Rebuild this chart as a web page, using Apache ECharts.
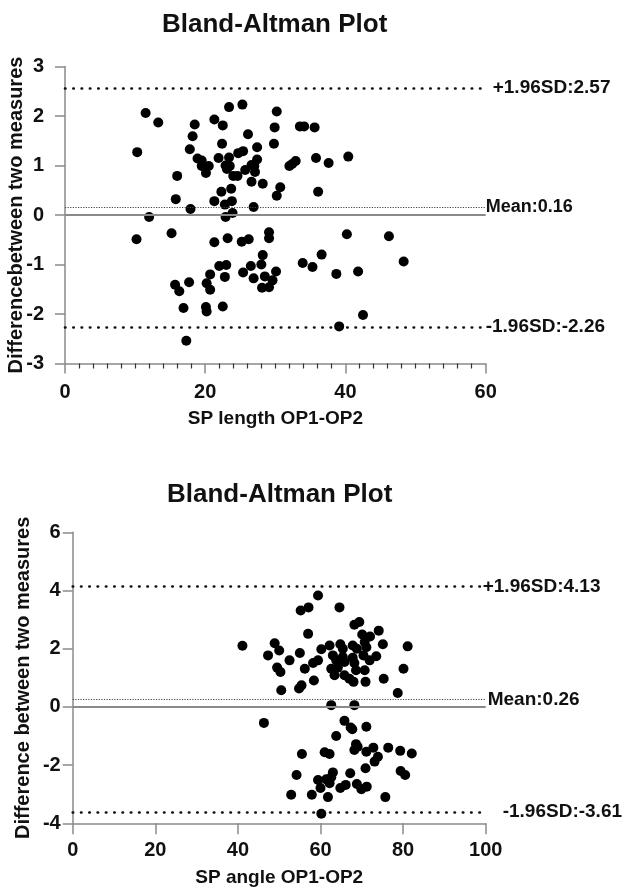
<!DOCTYPE html>
<html lang="en">
  <head>
    <meta charset="UTF-8" />
    <meta name="viewport" content="width=device-width, initial-scale=1.0" />
    <title>Bland-Altman Plot</title>
    <script src="https://cdn.jsdelivr.net/npm/echarts@6/dist/echarts.min.js"></script>
    <style>
      * {
        margin: 0;
        padding: 0;
      }
    </style>
  </head>
  <body>
    <div id="charts" style="width: 624px; height: 896px"></div>
    <script>
      // top plot: SP length, mean of OP1/OP2 vs difference
      var lengthX = [11.5, 13.3, 10.3, 18.5, 21.3, 23.4, 25.3, 22.5, 30.2, 18.2, 29.9, 26.1, 33.5, 34.1, 35.6, 22.4, 17.8, 29.8, 27.4, 25.4, 24.7, 18.9, 19.5, 21.9, 23.4, 27.4, 19.5, 20.5, 22.9, 23.5, 23.1, 35.8, 32.0, 32.4, 32.9, 26.6, 27.0, 25.7, 27.1, 20.1, 16.0, 24.0, 24.6, 26.6, 28.2, 23.7, 30.7, 22.3, 30.2, 36.1, 15.8, 21.3, 23.8, 22.8, 17.9, 26.9, 23.9, 22.9, 12.0, 37.6, 40.4,
        40.2, 46.2, 36.6, 33.9, 35.3, 48.3, 38.7, 41.8, 42.5, 39.1, 10.2, 15.2, 21.3, 23.2, 25.2, 26.2, 29.1, 29.1, 28.2, 22.0, 23.0, 26.5, 28.0, 25.4, 30.1, 20.7, 22.8, 26.9, 28.5, 29.6, 15.7, 17.7, 20.2, 20.7, 16.3, 28.1, 29.1, 16.9, 20.1, 20.2, 22.5, 17.3];
      var lengthDiff = [2.06, 1.87, 1.27, 1.83, 1.93, 2.18, 2.23, 1.81, 2.09, 1.59, 1.77, 1.63, 1.79, 1.79, 1.77, 1.44, 1.33, 1.44, 1.37, 1.29, 1.25, 1.14, 1.1, 1.15, 1.16, 1.12, 0.99, 0.99, 1.0, 0.99, 0.93, 1.15, 0.99, 1.03, 1.09, 1.01, 0.99, 0.91, 0.87, 0.85, 0.79, 0.79, 0.79, 0.67, 0.63, 0.53, 0.56, 0.47, 0.39, 0.47, 0.32, 0.28, 0.28, 0.21, 0.12, 0.16, 0.04, -0.04, -0.04, 1.05, 1.18,
        -0.39, -0.43, -0.8, -0.97, -1.05, -0.94, -1.19, -1.14, -2.02, -2.25, -0.49, -0.37, -0.55, -0.47, -0.54, -0.49, -0.35, -0.47, -0.81, -1.03, -1.01, -1.03, -1.0, -1.16, -1.14, -1.2, -1.25, -1.28, -1.24, -1.32, -1.41, -1.36, -1.38, -1.51, -1.54, -1.47, -1.46, -1.88, -1.86, -1.95, -1.85, -2.54];
      var lengthLimits = [2.57, 0.16, -2.26]; // +1.96SD, mean, -1.96SD

      // bottom plot: SP angle
      var angleX = [59.4, 55.2, 57.1, 64.6, 68.2, 69.4, 57.0, 74.1, 70.1, 72.0, 41.1, 48.9, 50.0, 47.3, 52.5, 55.0, 60.2, 62.2, 64.8, 65.4, 67.8, 68.8, 70.7, 71.1, 75.1, 81.1, 58.2, 59.4, 63.0, 63.8, 65.4, 65.8, 67.8, 68.2, 70.4, 71.9, 73.5, 49.5, 50.3, 56.2, 62.6, 64.2, 63.4, 65.8, 68.6, 70.7, 58.4, 67.0, 68.0, 70.9, 75.3, 80.1, 50.5, 54.8, 55.4, 78.7, 62.6, 68.2,
        46.3, 65.8, 67.3, 67.7, 71.1, 63.8, 68.6, 69.0, 68.2, 71.1, 72.8, 73.9, 73.1, 76.4, 79.3, 82.1, 55.5, 61.0, 62.2, 70.9, 79.4, 80.5, 54.2, 63.0, 67.2, 59.4, 61.4, 62.6, 60.0, 62.2, 66.1, 64.8, 68.8, 69.9, 71.2, 52.9, 57.9, 61.8, 75.7, 60.2];
      var angleDiff = [3.83, 3.31, 3.42, 3.42, 2.82, 2.92, 2.51, 2.62, 2.49, 2.42, 2.1, 2.19, 1.94, 1.77, 1.6, 1.85, 1.98, 2.11, 2.15, 2.0, 2.11, 2.0, 2.23, 2.05, 2.15, 2.08, 1.51, 1.6, 1.77, 1.6, 1.71, 1.54, 1.69, 1.51, 1.77, 1.6, 1.74, 1.35, 1.2, 1.31, 1.31, 1.35, 1.09, 1.09, 1.26, 1.26, 0.91, 0.97, 0.86, 0.86, 0.97, 1.31, 0.57, 0.63, 0.74, 0.48, 0.06, 0.06,
        -0.55, -0.48, -0.71, -0.77, -0.68, -1.0, -1.28, -1.37, -1.48, -1.54, -1.4, -1.71, -1.88, -1.4, -1.51, -1.6, -1.62, -1.56, -1.62, -2.11, -2.2, -2.34, -2.34, -2.25, -2.28, -2.51, -2.49, -2.42, -2.79, -2.62, -2.68, -2.79, -2.65, -2.83, -2.74, -3.02, -3.02, -3.1, -3.1, -3.67];
      var angleLimits = [4.13, 0.26, -3.61];

      var font = "'Liberation Sans', Arial, sans-serif";

      function pairs(xs, ys) {
        return xs.map(function (x, i) {
          return [x, ys[i]];
        });
      }

      // label at the right end of a limit line; "up" lifts it above the line
      function endLabel(text, size, dist, up) {
        return {
          show: true,
          position: "end",
          formatter: text,
          distance: dist,
          padding: [0, 0, up * 2, 0],
          color: "#111",
          fontFamily: font,
          fontWeight: "bold",
          fontSize: size,
        };
      }

      function limitLines(limits, offsets, meanSize) {
        var sdDots = { type: [0.5, 7.8], width: 2.6, color: "#111", cap: "round" };
        var meanDots = { type: [1.2, 1.4], width: 1.2, color: "#444" };
        return {
          silent: true,
          symbol: "none",
          animation: false,
          data: [
            { yAxis: 0, lineStyle: { type: "solid", width: 1.8, color: "#8a8a8a" }, label: { show: false } },
            { yAxis: limits[0], lineStyle: sdDots, label: endLabel("+1.96SD:" + limits[0].toFixed(2), 19, offsets[0][0], offsets[0][1]) },
            { yAxis: limits[1], lineStyle: meanDots, label: endLabel("Mean:" + limits[1].toFixed(2), meanSize, offsets[1][0], offsets[1][1]) },
            { yAxis: limits[2], lineStyle: sdDots, label: endLabel("-1.96SD:" + limits[2].toFixed(2), 19, offsets[2][0], offsets[2][1]) },
          ],
        };
      }

      var axisLine = { onZero: false, lineStyle: { color: "#8a8a8a", width: 1.5 } };
      var tickLine = { color: "#8a8a8a", width: 1.5 };
      var tickFont = { fontFamily: font, fontWeight: "bold", fontSize: 20, color: "#111" };
      var nameFont = { fontFamily: font, fontWeight: "bold", fontSize: 19, color: "#111" };
      var titleFont = { fontFamily: font, fontWeight: "bold", fontSize: 26, color: "#111" };

      var myEcharts = echarts.init(document.getElementById("charts"));
      var options = {
        animation: false,
        title: [
          { text: "Bland-Altman Plot", left: 157, top: 7, textStyle: titleFont },
          { text: "Bland-Altman Plot", left: 162, top: 477, textStyle: titleFont },
        ],
        grid: [
          { left: 65, top: 66.5, width: 420.7, height: 297, outerBoundsMode: "none" },
          { left: 72.7, top: 532.3, width: 413, height: 291, outerBoundsMode: "none" },
        ],
        xAxis: [
          {
            gridIndex: 0, type: "value", min: 0, max: 60, interval: 20,
            name: "SP length OP1-OP2", nameLocation: "middle", nameGap: 46, nameMoveOverlap: false, nameTextStyle: nameFont,
            axisLine: axisLine,
            axisTick: { show: true, length: 10, lineStyle: tickLine },
            minorTick: { show: true, splitNumber: 10, length: 5, lineStyle: { color: "#333", width: 1.2 } },
            axisLabel: Object.assign({ margin: 19 }, tickFont),
            splitLine: { show: false },
          },
          {
            gridIndex: 1, type: "value", min: 0, max: 100, interval: 20,
            name: "SP angle OP1-OP2", nameLocation: "middle", nameGap: 45, nameMoveOverlap: false, nameTextStyle: nameFont,
            axisLine: axisLine,
            axisTick: { show: true, length: 11, lineStyle: tickLine },
            axisLabel: Object.assign({ margin: 17 }, tickFont),
            splitLine: { show: false },
          },
        ],
        yAxis: [
          {
            gridIndex: 0, type: "value", min: -3, max: 3, interval: 1,
            name: "Differencebetween two measures", nameLocation: "middle", nameGap: 39, nameMoveOverlap: false,
            nameTextStyle: Object.assign({}, nameFont, { fontSize: 20 }),
            axisLine: axisLine,
            axisTick: { show: true, length: 10, lineStyle: tickLine },
            axisLabel: Object.assign({ margin: 21 }, tickFont),
            splitLine: { show: false },
          },
          {
            gridIndex: 1, type: "value", min: -4, max: 6, interval: 2,
            name: "Difference between two measures", nameLocation: "middle", nameGap: 39, nameMoveOverlap: false,
            nameTextStyle: Object.assign({}, nameFont, { fontSize: 20 }),
            axisLine: axisLine,
            axisTick: { show: true, length: 10, lineStyle: tickLine },
            axisLabel: Object.assign({ margin: 12 }, tickFont),
            splitLine: { show: false },
          },
        ],
        series: [
          {
            type: "scatter", xAxisIndex: 0, yAxisIndex: 0,
            data: pairs(lengthX, lengthDiff),
            symbolSize: 10,
            itemStyle: { color: "#000", opacity: 1 },
            markLine: limitLines(lengthLimits, [[7, 1], [0, 10], [0, 5]], 18),
            z: 3,
          },
          {
            type: "scatter", xAxisIndex: 1, yAxisIndex: 1,
            data: pairs(angleX, angleDiff),
            symbolSize: 10,
            itemStyle: { color: "#000", opacity: 1 },
            markLine: limitLines(angleLimits, [[-3, 21], [2, 18], [17, 17]], 19),
            z: 3,
          },
        ],
      };
      myEcharts.setOption(options);
    </script>
  </body>
</html>
